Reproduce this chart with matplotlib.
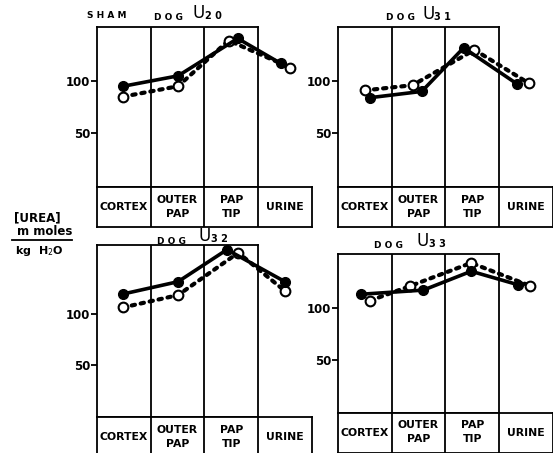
import matplotlib.pyplot as plt

# column labels of the lower boxes
columns = ["CORTEX", "OUTER\nPAP", "PAP\nTIP", "URINE"]

# sham dog U20
u20_solid_x = [0.49, 1.51, 2.62, 3.42]
u20_solid = [95, 105, 141, 117]
u20_open_x = [0.49, 1.51, 2.45, 3.60]
u20_open = [85, 95, 139, 113]

# dog U31
u31_solid_x = [0.60, 1.56, 2.34, 3.34]
u31_solid = [84, 90, 132, 97]
u31_open_x = [0.50, 1.39, 2.54, 3.55]
u31_open = [91, 96, 130, 98]

# dog U32
u32_solid_x = [0.48, 1.51, 2.42, 3.50]
u32_solid = [119, 131, 162, 131]
u32_open_x = [0.48, 1.51, 2.63, 3.50]
u32_open = [106, 118, 159, 122]

# dog U33
u33_solid_x = [0.42, 1.59, 2.48, 3.36]
u33_solid = [113, 117, 135, 122]
u33_open_x = [0.60, 1.35, 2.48, 3.58]
u33_open = [107, 121, 143, 121]

W, H = 553, 453


def px_axes(fig, left, right, top, bottom):
    return fig.add_axes([left / W, (H - bottom) / H, (right - left) / W, (bottom - top) / H])


def panel(fig, left, top, bottom, ylim, sx, sy, ox, oy):
    colw = 53.7
    ax = px_axes(fig, left, left + 3 * colw, top, bottom)
    ax.set_xlim(0, 3)
    ax.set_ylim(*ylim)
    for s in ax.spines.values():
        s.set_linewidth(1.3)
    ax.axvline(1, color="black", lw=1.3)
    ax.axvline(2, color="black", lw=1.3)
    ax.set_xticks([])
    ax.set_yticks([50, 100])
    ax.set_yticklabels(["50", "100"], fontsize=8.5, fontweight="bold")
    ax.tick_params(axis="y", length=4, width=1.3, pad=1)
    ax.plot(ox, oy, color="black", lw=3, linestyle=(0, (0.8, 1.4)),
            dash_capstyle="round", marker="o", ms=7, mfc="white",
            mec="black", mew=1.5, clip_on=False, zorder=3)
    ax.plot(sx, sy, color="black", lw=2.6, marker="o", ms=7,
            mfc="black", mec="black", clip_on=False, zorder=4)

    lab = px_axes(fig, left, left + 4 * colw, bottom, bottom + 40)
    lab.set_xlim(0, 4)
    lab.set_ylim(0, 1)
    lab.set_xticks([])
    lab.set_yticks([])
    for s in lab.spines.values():
        s.set_linewidth(1.3)
    for k in range(1, 4):
        lab.axvline(k, color="black", lw=1.3)
    for k, name in enumerate(columns):
        lab.text(k + 0.5, 0.5, name, ha="center", va="center",
                 fontsize=7.8, fontweight="bold", linespacing=1.5)
    return ax


fig = plt.figure(figsize=(W / 100, H / 100), dpi=100)

panel(fig, 97, 27, 187, (-2, 152), u20_solid_x, u20_solid, u20_open_x, u20_open)
panel(fig, 338, 27, 187, (-2, 152), u31_solid_x, u31_solid, u31_open_x, u31_open)
panel(fig, 97, 245, 417, (0, 166.5), u32_solid_x, u32_solid, u32_open_x, u32_open)
panel(fig, 338, 254, 412.5, (0, 151.5), u33_solid_x, u33_solid, u33_open_x, u33_open)


def ftext(x, y, s, size):
    fig.text(x / W, 1 - y / H, s, fontsize=size, fontweight="bold",
             ha="left", va="center")


# titles
ftext(87, 15, "S H A M", 6.5)
for (ux, uy, sub, dogx, dogy) in [(193, 13, "2 0", 154, 17),
                                  (422, 14, "3 1", 386, 17),
                                  (199, 236, "3 2", 157, 241),
                                  (417, 241, "3 3", 374, 246)]:
    fig.text(ux / W, 1 - uy / H, "U", fontsize=12, ha="left", va="center")
    fig.text((ux + 12) / W, 1 - (uy + 3) / H, sub, fontsize=7,
             fontweight="bold", ha="left", va="center")
    ftext(dogx, dogy, "D O G", 6.5)

# y label
ftext(14, 218, "[UREA]", 8.5)
ftext(17, 232, "m moles", 8.5)
fig.add_artist(plt.Line2D([12 / W, 72 / W], [1 - 240 / H, 1 - 240 / H],
                          color="black", lw=1.3))
ftext(15, 251, "kg  H$_2$O", 8)

fig.savefig("out.png", dpi=100)
